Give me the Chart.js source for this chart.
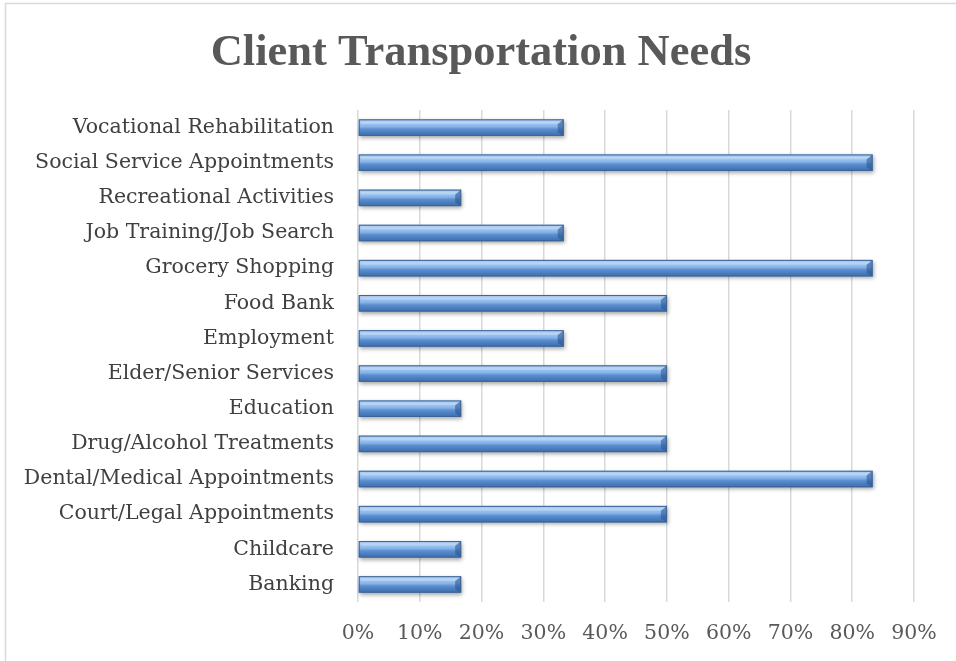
<!DOCTYPE html>
<html><head><meta charset="utf-8">
<script src="https://cdn.jsdelivr.net/npm/chart.js@4/dist/chart.umd.min.js"></script>
<style>html,body{margin:0;padding:0;background:#fff;}#wrap{width:956px;height:661px;position:relative;}</style>
</head><body><div id="wrap"><canvas id="c" width="956" height="661"></canvas></div>
<script>
const chartTitle = "Client Transportation Needs";
const categories = ["Vocational Rehabilitation","Social Service Appointments","Recreational Activities","Job Training/Job Search","Grocery Shopping","Food Bank","Employment","Elder/Senior Services","Education","Drug/Alcohol Treatments","Dental/Medical Appointments","Court/Legal Appointments","Childcare","Banking"];
const percentValues = [33.3,83.3,16.7,33.3,83.3,50,33.3,50,16.7,50,83.3,50,16.7,16.7];
const xTicks = [0,10,20,30,40,50,60,70,80,90];

const frame = {
  id:'frame',
  beforeDraw(chart){
    const c=chart.ctx; c.save(); c.fillStyle='#fff'; c.fillRect(0,0,chart.width,chart.height);
    c.strokeStyle='#d9d9d9'; c.lineWidth=1.5; c.strokeRect(5.5,3.5,chart.width+10,chart.height+10);
    c.fillStyle='#595959'; c.font='bold 44.5px "Liberation Serif", serif';
    c.textAlign='center'; c.textBaseline='alphabetic'; c.fillText(chartTitle,481,65);
    c.restore();
  }
};
const bevel = {
  id:'bevel',
  afterDatasetsDraw(chart){
    const c=chart.ctx; const meta=chart.getDatasetMeta(0);
    meta.data.forEach(el=>{
      const p=el.getProps(['x','y','base','height'],true);
      const left=Math.min(p.x,p.base), right=Math.max(p.x,p.base);
      const top=p.y-p.height/2, h=p.height, w=right-left;
      c.save();
      c.shadowColor='rgba(0,0,0,0.35)'; c.shadowBlur=4; c.shadowOffsetX=1; c.shadowOffsetY=2;
      const g=c.createLinearGradient(0,top,0,top+h);
      g.addColorStop(0,'#76a3da'); g.addColorStop(0.18,'#a6caf2'); g.addColorStop(0.45,'#86b3e7');
      g.addColorStop(0.6,'#5a8ed0'); g.addColorStop(1,'#3c6cab');
      c.fillStyle=g; c.fillRect(left,top,w,h);
      c.restore();
      c.save();
      const b=Math.min(6,w/3);
      c.fillStyle='rgba(40,80,140,0.55)';
      c.beginPath(); c.moveTo(right-b,top+b*0.8); c.lineTo(right,top); c.lineTo(right,top+h); c.lineTo(right-b,top+h-b*0.6); c.closePath(); c.fill();
      c.fillStyle='rgba(220,235,255,0.35)';
      c.beginPath(); c.moveTo(left,top); c.lineTo(right,top); c.lineTo(right-b,top+b*0.8); c.lineTo(left+3,top+b*0.8); c.closePath(); c.fill();
      c.strokeStyle='#3b6597'; c.lineWidth=1; c.strokeRect(left+0.5,top+0.5,w-1,h-1);
      c.restore();
    });
  }
};

new Chart(document.getElementById('c'),{
  type:'bar',
  data:{labels:categories,datasets:[{data:percentValues,backgroundColor:'rgba(0,0,0,0)',borderWidth:0,barPercentage:0.47,categoryPercentage:1}]},
  options:{
    indexAxis:'y',responsive:false,animation:false,devicePixelRatio:1,
    layout:{padding:{left:10,right:42,top:110,bottom:0}},
    plugins:{legend:{display:false},tooltip:{enabled:false},title:{display:false}},
    scales:{
      x:{min:0,max:90,
        afterBuildTicks(s){s.ticks=xTicks.map(v=>({value:v}));},
        afterFit(s){s.height=59;},
        ticks:{callback:v=>v+'%',color:'#595959',padding:19,font:{family:'"DejaVu Serif", serif',size:20.5}},
        grid:{color:'#d9d9d9',lineWidth:1.5,drawTicks:false},border:{display:false}},
      y:{afterFit(s){s.width=348;},
        ticks:{color:'#404040',padding:16,font:{family:'"DejaVu Serif", serif',size:20.5}},
        grid:{display:false},border:{display:false}}
    }
  },
  plugins:[frame,bevel]
});
</script></body></html>
